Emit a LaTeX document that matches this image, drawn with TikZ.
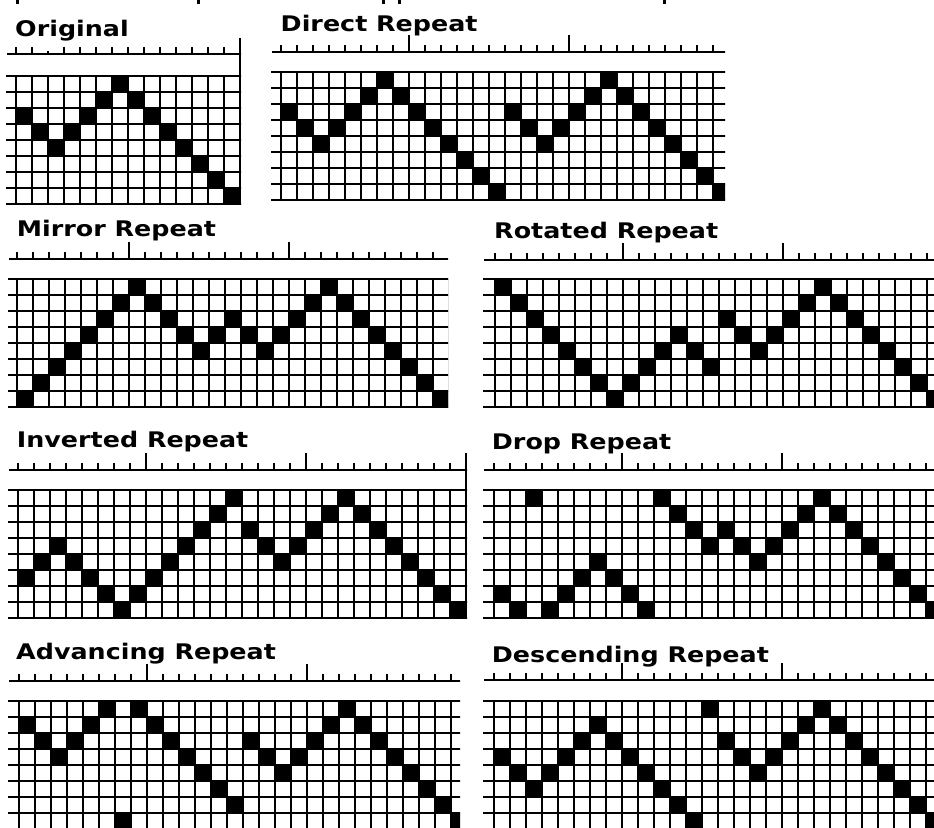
\documentclass[tikz,border=0pt]{standalone}
\usepackage{fontspec}
\setmainfont{DejaVu Sans}
\tikzset{
  gridline/.style={line width=2pt, line cap=rect},
  rulerline/.style={line width=1.5pt},
  tickmark/.style={line width=1.4pt},
  title/.style={anchor=base west, inner sep=0pt, font=\fontsize{21.5}{25}\selectfont\bfseries, xscale=1.18},
  cellfill/.style={fill=black},
}
% #1 xs  #2 x0  #3 xe  #4 grid top  #5 last vertical line index  #6 pattern  #7 ruler y  #8 last tick index
\newcommand{\gpanel}[8]{%
  \begin{scope}
    \clip (#1-1,#7-20) rectangle (#3,#4+8*16+1);
    \draw[rulerline] (#1,#7) -- (#3+2,#7);
    \foreach \k in {0,...,#8} \draw[tickmark] (#2+16*\k,#7) -- ++(0,-7);
    \foreach \k in {0,...,8} \draw[gridline] (#1,#4+16*\k) -- (#3+2,#4+16*\k);
    \foreach \k in {0,...,#5} \draw[gridline] (#2+16*\k,#4) -- (#2+16*\k,#4+16*8);
    \foreach \r [count=\c from 0] in {#6} \fill[cellfill] (#2+16*\c,#4+16*\r) rectangle ++(16,16);
  \end{scope}}
\newcommand{\longticks}[4]{% x0, ruler y, first, second
  \draw[tickmark] (#1+16*#3,#2) -- ++(0,-17);
  \draw[tickmark] (#1+16*#4,#2) -- ++(0,-17);}
\begin{document}
\begin{tikzpicture}[x=1pt,y=-1pt]
\useasboundingbox (0,0) rectangle (934,827);
\clip (0,0) rectangle (934,827);
\fill[white] (0,0) rectangle (934,827);
% cut-off text fragments at top edge
\foreach \xx in {16,197,382,398,663} \fill[black] (\xx,0) rectangle ++(3,3.5);
% Titles
\node[title] (t1) at (15,36) {Original};
\node[title] (t2) at (280.5,31.5) {Direct Repeat};
\node[title] (t3) at (16.7,236) {Mirror Repeat};
\node[title] (t4) at (494,238) {Rotated Repeat};
\node[title] (t5) at (16.7,447) {Inverted Repeat};
\node[title] (t6) at (491.7,449) {Drop Repeat};
\node[title] (t7) at (16,659) {Advancing Repeat};
\node[title] (t8) at (491.7,662) {Descending Repeat};
% Original
\gpanel{7}{16}{241}{76}{14}{2,3,4,3,2,1,0,1,2,3,4,5,6,7}{54}{13}
\fill[white] (16+32-1,44) rectangle ++(2,6.5);
\draw[rulerline] (240,38) -- (240,76);
% Direct
\gpanel{272}{281}{725}{72}{28}{2,3,4,3,2,1,0,1,2,3,4,5,6,7,2,3,4,3,2,1,0,1,2,3,4,5,6,7}{52}{27}
\longticks{281}{52}{8}{18}
% Mirror
\gpanel{9}{17}{448}{279}{27}{7,6,5,4,3,2,1,0,1,2,3,4,3,2,3,4,3,2,1,0,1,2,3,4,5,6,7}{259}{26}
\longticks{17}{259}{7}{17}
% Rotated
\gpanel{484}{495}{934}{279}{28}{0,1,2,3,4,5,6,7,6,5,4,3,4,5,2,3,4,3,2,1,0,1,2,3,4,5,6,7}{260}{27}
\longticks{495}{260}{8}{18}
% Inverted
\gpanel{9}{18}{467}{490}{28}{5,4,3,4,5,6,7,6,5,4,3,2,1,0,2,3,4,3,2,1,0,1,2,3,4,5,6,7}{470}{27}
\longticks{18}{470}{8}{18}
\draw[rulerline] (466,453) -- (466,490);
% Drop
\gpanel{484}{494}{934}{490}{28}{6,7,0,7,6,5,4,5,6,7,0,1,2,3,2,3,4,3,2,1,0,1,2,3,4,5,6,7}{470}{27}
\longticks{494}{470}{8}{18}
% Advancing
\gpanel{9}{19}{460}{701}{28}{1,2,3,2,1,0,7,0,1,2,3,4,5,6,2,3,4,3,2,1,0,1,2,3,4,5,6,7}{681}{27}
\longticks{19}{681}{8}{18}
% Descending
\gpanel{484}{494}{934}{701}{28}{3,4,5,4,3,2,1,2,3,4,5,6,7,0,2,3,4,3,2,1,0,1,2,3,4,5,6,7}{680}{27}
\longticks{494}{680}{8}{18}
\end{tikzpicture}
\end{document}
